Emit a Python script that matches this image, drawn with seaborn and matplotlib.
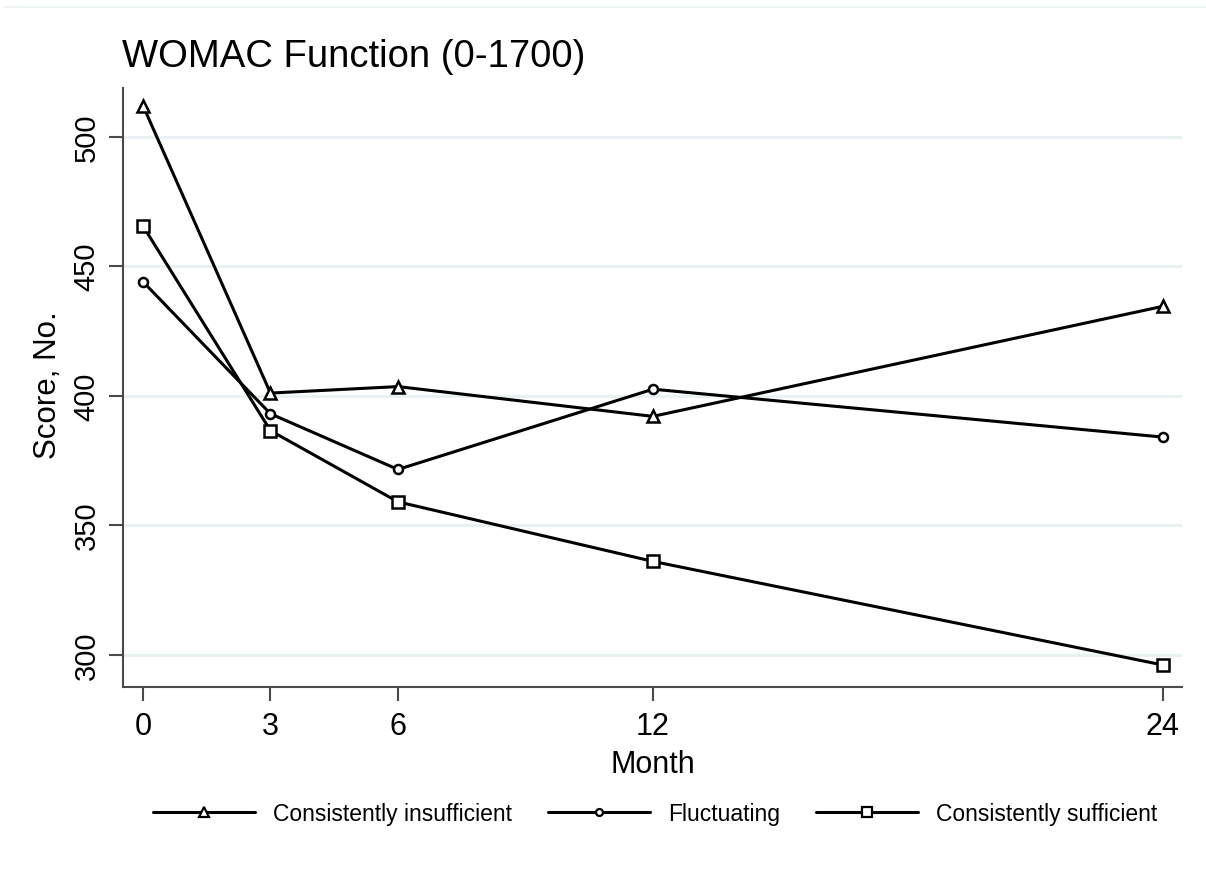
import matplotlib
matplotlib.use("Agg")
import matplotlib.pyplot as plt
import seaborn as sns
import pandas as pd
from matplotlib.lines import Line2D

months = [0, 3, 6, 12, 24]
groups = ["Consistently insufficient", "Fluctuating", "Consistently sufficient"]
insufficient = [512, 401, 403.5, 392, 434.5]
fluctuating = [444, 393, 371.5, 402.5, 384]
sufficient = [465.5, 386.5, 359, 336, 296]
yticks = [300, 350, 400, 450, 500]

rows = []
for g, vals in zip(groups, [insufficient, fluctuating, sufficient]):
    for m, v in zip(months, vals):
        rows.append({"Month": m, "Score": v, "Group": g})
df = pd.DataFrame(rows)

sns.set_theme(style="white")
plt.rcParams["font.family"] = ["Liberation Sans", "DejaVu Sans"]
plt.rcParams["text.color"] = "black"
plt.rcParams["axes.labelcolor"] = "black"

fig = plt.figure(figsize=(12.06, 8.78), dpi=100)
ax = fig.add_axes([123/1206, 1 - 688/878, (1182-123)/1206, (688-89)/878])

markers = {groups[0]: "^", groups[1]: "o", groups[2]: "s"}
palette = {g: "black" for g in groups}
sns.lineplot(data=df, x="Month", y="Score", hue="Group", style="Group",
             markers=markers, dashes=False, palette=palette, ax=ax,
             linewidth=2.2, markersize=9, markerfacecolor="white",
             markeredgecolor="black", markeredgewidth=1.8, legend=False)
for line in ax.get_lines():
    if line.get_marker() == "o":
        line.set_markersize(6.5)

ax.set_xlim(-0.47, 24.45)
ax.set_ylim(287.5, 518.8)
ax.set_xticks(months)
ax.set_yticks(yticks)
ax.yaxis.grid(True, color="#e8f0f2", linewidth=2)
ax.xaxis.grid(False)
ax.set_axisbelow(True)
for s in ["top", "right"]:
    ax.spines[s].set_visible(False)
for s in ["left", "bottom"]:
    ax.spines[s].set_color("#4a4a4a")
    ax.spines[s].set_linewidth(1.5)
ax.tick_params(axis="both", which="major", direction="out", length=10,
               width=1.5, color="#4a4a4a", labelsize=21, bottom=True, left=True,
               labelcolor="black")
ax.tick_params(axis="x", labelsize=22, pad=7)
ax.tick_params(axis="y", pad=6)
for lab in ax.get_yticklabels():
    lab.set_rotation(90)
    lab.set_va("center")

ax.set_xlabel("Month", fontsize=22, labelpad=6, color="black")
ax.set_ylabel("Score, No.", fontsize=22.5, color="black")
ax.yaxis.set_label_coords(-0.0565, 0.505)

fig.text(122/1206, 1 - 57/878, "WOMAC Function (0-1700)", fontsize=27.5,
         ha="left", va="center", color="black")

handles = [Line2D([], [], color="black", lw=2.2, marker=markers[g],
                  markersize=(5 if g == "Fluctuating" else 7),
                  markerfacecolor="white", markeredgecolor="black",
                  markeredgewidth=1.6) for g in groups]
leg = fig.legend(handles, groups, loc="center", bbox_to_anchor=(655/1206, 1 - 815/878),
                 ncol=3, frameon=False, fontsize=16.5, handlelength=4.45,
                 handletextpad=0.79, columnspacing=1.57)
for t in leg.get_texts():
    t.set_color("black")

fig.add_artist(Line2D([5/1206, 1], [1 - 8/878, 1 - 8/878], color="#eef3f4",
                      lw=1.5, transform=fig.transFigure))

fig.savefig("out.png", dpi=100, facecolor="white")
